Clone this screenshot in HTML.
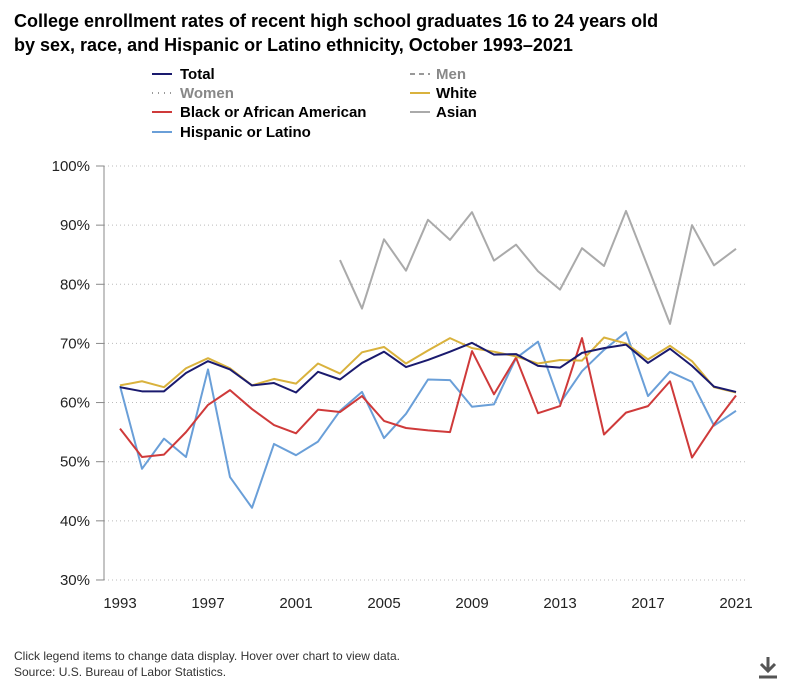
<!DOCTYPE html>
<html><head><meta charset="utf-8"><style>
body{margin:0;width:800px;height:690px;background:#fff;font-family:"Liberation Sans",Arial,sans-serif;overflow:hidden}
</style></head><body>
<svg width="800" height="690" id="c" font-family="Liberation Sans, Arial, sans-serif">
<text x="14" y="27" font-size="18" font-weight="bold" fill="#000">College enrollment rates of recent high school graduates 16 to 24 years old</text>
<text x="14" y="51" font-size="18" font-weight="bold" fill="#000">by sex, race, and Hispanic or Latino ethnicity, October 1993–2021</text>
<g font-size="15" font-weight="bold">
<g><line x1="152" y1="74" x2="172" y2="74" stroke="#1a1a6e" stroke-width="2"/><text x="180" y="79">Total</text></g>
<g><line x1="410" y1="74" x2="430" y2="74" stroke="#999" stroke-width="2" stroke-dasharray="5,4"/><text x="436" y="79" fill="#888">Men</text></g>
<g><line x1="152" y1="93" x2="172" y2="93" stroke="#999" stroke-width="2" stroke-dasharray="1,5"/><text x="180" y="98" fill="#888">Women</text></g>
<g><line x1="410" y1="93" x2="430" y2="93" stroke="#d9b23d" stroke-width="2"/><text x="436" y="98">White</text></g>
<g><line x1="152" y1="112" x2="172" y2="112" stroke="#cf3a3a" stroke-width="2"/><text x="180" y="117">Black or African American</text></g>
<g><line x1="410" y1="112" x2="430" y2="112" stroke="#aaa" stroke-width="2"/><text x="436" y="117">Asian</text></g>
<g><line x1="152" y1="132" x2="172" y2="132" stroke="#6a9fd8" stroke-width="2"/><text x="180" y="137">Hispanic or Latino</text></g>
</g>
<g id="axes"></g><g id="series"></g>
<text x="14" y="660" font-size="12" fill="#333">Click legend items to change data display. Hover over chart to view data.</text>
<text x="14" y="676" font-size="12" fill="#333">Source: U.S. Bureau of Labor Statistics.</text>
<g stroke="#555" stroke-width="3" fill="none"><line x1="768" y1="657" x2="768" y2="670"/><polyline points="761,664 768,671 775,664"/><line x1="759" y1="677" x2="777" y2="677"/></g>
</svg>
<script>
const years=[1993,1994,1995,1996,1997,1998,1999,2000,2001,2002,2003,2004,2005,2006,2007,2008,2009,2010,2011,2012,2013,2014,2015,2016,2017,2018,2019,2020,2021];
const yTicks=[30,40,50,60,70,80,90,100];
const xTicks=[1993,1997,2001,2005,2009,2013,2017,2021];
const total=[62.6,61.9,61.9,65.0,67.0,65.6,62.9,63.3,61.7,65.2,63.9,66.7,68.6,66.0,67.2,68.6,70.1,68.1,68.2,66.2,65.9,68.4,69.2,69.8,66.7,69.1,66.2,62.7,61.8];
const white=[62.9,63.6,62.6,65.8,67.5,65.8,62.9,64.0,63.2,66.6,64.9,68.5,69.4,66.6,68.8,70.9,69.2,68.6,67.8,66.6,67.2,67.1,71.0,70.0,67.3,69.6,67.0,62.6,61.7];
const black=[55.6,50.8,51.2,55.0,59.6,62.1,58.9,56.2,54.8,58.8,58.4,61.1,56.9,55.7,55.3,55.0,68.7,61.4,67.6,58.2,59.4,70.9,54.6,58.3,59.4,63.6,50.7,56.3,61.2];
const hispanic=[62.8,48.8,53.9,50.8,65.6,47.4,42.2,53.0,51.1,53.4,58.6,61.8,54.0,58.1,63.9,63.8,59.3,59.7,67.5,70.3,59.9,65.3,68.9,71.9,61.1,65.2,63.5,56.1,58.6];
const asianYears=[2003,2004,2005,2006,2007,2008,2009,2010,2011,2012,2013,2014,2015,2016,2017,2018,2019,2020,2021];
const asian=[84.1,75.9,87.6,82.3,90.9,87.5,92.2,84.0,86.7,82.2,79.1,86.1,83.1,92.4,82.9,73.3,90.0,83.2,86.0];
const NS='http://www.w3.org/2000/svg';
const X=y=>120+(y-1993)*22;
const Y=v=>166+(100-v)*5.914;
function mk(t,a,p){const e=document.createElementNS(NS,t);for(const k in a)e.setAttribute(k,a[k]);p.appendChild(e);return e;}
const ax=document.getElementById('axes');
yTicks.forEach(v=>{
 const g=mk('line',{x1:104,x2:745,y1:Y(v),y2:Y(v),stroke:'#bbb','stroke-dasharray':'1,3'},ax);
 
 
 mk('line',{x1:96,x2:104,y1:Y(v),y2:Y(v),stroke:'#888'},ax);
 const t=mk('text',{x:90,y:Y(v)+5,'text-anchor':'end','font-size':15,fill:'#222'},ax);t.textContent=v+'%';
 
 
});
const a=mk('line',{x1:104,x2:104,y1:166,y2:Y(30),stroke:'#888'},ax);


xTicks.forEach(y=>{
 const t=mk('text',{x:X(y),y:608,'text-anchor':'middle','font-size':15,fill:'#222'},ax);t.textContent=y;
 
 
});
const sg=document.getElementById('series');
function line(xs,vals,col,name){
 const p=mk('polyline',{points:vals.map((v,i)=>X(xs[i])+','+Y(v)).join(' '),fill:'none',stroke:col,'stroke-width':2,'stroke-linejoin':'round'},sg);
 
 
}
line(asianYears,asian,'#aaa','asian-line');
line(years,hispanic,'#6a9fd8','hispanic-line');
line(years,black,'#cf3a3a','black-line');
line(years,white,'#d9b23d','white-line');
line(years,total,'#1a1a6e','total-line');
</script>
</body></html>
